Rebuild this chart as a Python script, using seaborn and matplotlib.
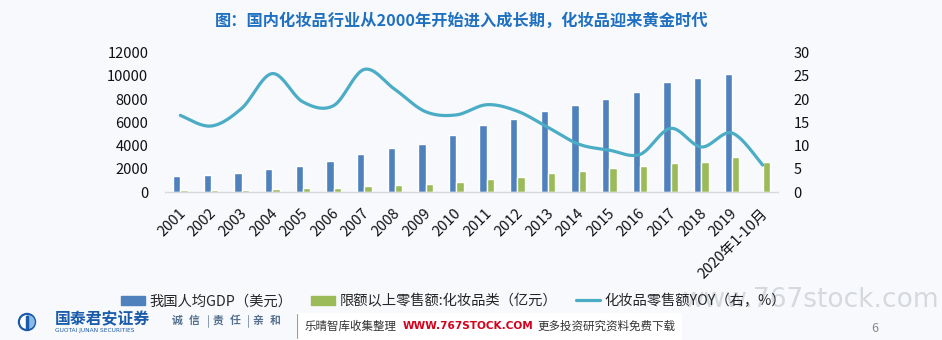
import numpy as np
import pandas as pd
import matplotlib
matplotlib.use("Agg")
import matplotlib.pyplot as plt
from matplotlib import patches
from matplotlib.transforms import ScaledTranslation
from matplotlib.lines import Line2D
import seaborn as sns

# ---- data -------------------------------------------------------------
years = ['2001', '2002', '2003', '2004', '2005', '2006', '2007', '2008',
         '2009', '2010', '2011', '2012', '2013', '2014', '2015', '2016',
         '2017', '2018', '2019', '2020年1-10月']
gdp_per_capita = [1350, 1500, 1660, 1950, 2270, 2650, 3250, 3830, 4140, 4900,
                  5750, 6330, 6960, 7480, 7970, 8580, 9470, 9810, 10130, np.nan]
cosmetics_sales = [145, 150, 175, 230, 345, 375, 490, 575, 720, 865,
                   1080, 1325, 1610, 1815, 2045, 2220, 2505, 2620, 2995, 2580]
cosmetics_yoy = [16.5, 14.2, 18.0, 25.5, 19.4, 18.6, 26.4, 22.1, 17.3, 16.6,
                 18.8, 17.4, 13.9, 10.3, 9.0, 8.1, 13.7, 9.7, 12.7, 5.8]

series_gdp = '我国人均GDP（美元）'
series_sales = '限额以上零售额:化妆品类（亿元）'
series_yoy = '化妆品零售额YOY（右，%）'

left_ticks = [0, 2000, 4000, 6000, 8000, 10000, 12000]
right_ticks = [0, 5, 10, 15, 20, 25, 30]

BLUE = '#4F81BD'
GREEN = '#9BBB59'
TEAL = '#4BACC6'
BG = '#F7F9FC'

# ---- style ------------------------------------------------------------
sns.set_theme(style='white')
plt.rcParams['font.family'] = ['Noto Sans CJK SC', 'DejaVu Sans']
plt.rcParams['axes.unicode_minus'] = False

W, H = 942, 340
fig = plt.figure(figsize=(W / 100, H / 100), dpi=100, facecolor=BG)
ax = fig.add_axes([165 / W, 1 - 192 / H, (778 - 165) / W, (192 - 52.7) / H])
ax.patch.set_visible(False)

# ---- bars -------------------------------------------------------------
df = pd.DataFrame({
    'year': years * 2,
    'series': [series_gdp] * len(years) + [series_sales] * len(years),
    'value': list(gdp_per_capita) + list(cosmetics_sales),
})
sns.barplot(data=df, x='year', y='value', hue='series',
            hue_order=[series_gdp, series_sales], order=years,
            palette=[BLUE, GREEN], width=0.48, gap=0, saturation=1,
            errorbar=None, legend=False, ax=ax)

ax.set_ylim(0, 12000)
ax.set_yticks(left_ticks)
ax.set_yticklabels([str(t) for t in left_ticks])
ax.set_xlim(-0.5, len(years) - 0.5)
ax.set_xlabel('')
ax.set_ylabel('')
for s in ['top', 'left', 'right']:
    ax.spines[s].set_visible(False)
ax.spines['bottom'].set_color('#D9D9D9')
ax.spines['bottom'].set_linewidth(1.0)
ax.tick_params(axis='y', length=0, pad=12, labelsize=10.5, labelcolor='#111111')
ax.tick_params(axis='x', length=0, pad=14, labelsize=10.5, labelcolor='#111111')
ax.set_xticks(range(len(years)))
ax.set_xticklabels(years, rotation=45, ha='right', va='center',
                   rotation_mode='anchor')
shift = ScaledTranslation(3 / 100, 0, fig.dpi_scale_trans)
for lab in ax.get_xticklabels():
    lab.set_transform(lab.get_transform() + shift)

# ---- smoothed growth line on the right axis ------------------------------
def catmull_rom(y, steps=24):
    y = np.asarray(y, dtype=float)
    x = np.arange(len(y), dtype=float)
    px = np.concatenate([[x[0]], x, [x[-1]]])
    py = np.concatenate([[y[0]], y, [y[-1]]])
    xs, ys = [], []
    t = np.linspace(0, 1, steps, endpoint=False)
    for i in range(1, len(px) - 2):
        for p, out in ((px, xs), (py, ys)):
            p0, p1, p2, p3 = p[i - 1], p[i], p[i + 1], p[i + 2]
            out.extend(0.5 * ((2 * p1) + (-p0 + p2) * t
                              + (2 * p0 - 5 * p1 + 4 * p2 - p3) * t ** 2
                              + (-p0 + 3 * p1 - 3 * p2 + p3) * t ** 3))
    xs.append(x[-1])
    ys.append(y[-1])
    return np.array(xs), np.array(ys)

ax2 = ax.twinx()
ax2.patch.set_visible(False)
sx, sy = catmull_rom(cosmetics_yoy)
sns.lineplot(x=sx, y=sy, sort=False, estimator=None, color=TEAL,
             linewidth=2.3, ax=ax2)
ax2.set_ylim(0, 30)
ax2.set_yticks(right_ticks)
ax2.set_yticklabels([str(t) for t in right_ticks])
for s in ax2.spines.values():
    s.set_visible(False)
ax2.tick_params(axis='y', length=0, pad=11, labelsize=10.5, labelcolor='#111111')
ax2.set_ylabel('')

# ---- title ------------------------------------------------------------
fig.text(462 / W, 1 - 20 / H, '图：国内化妆品行业从2000年开始进入成长期，化妆品迎来黄金时代',
         ha='center', va='center', fontsize=11.7, fontweight='bold',
         color='#1F70C1')

# ---- page decorations (pixel coordinates) -------------------------------
deco = fig.add_axes([0, 0, 1, 1], zorder=-1)
deco.set_xlim(0, W)
deco.set_ylim(H, 0)
deco.axis('off')
deco.text(940, 300, 'www.767stock.com', ha='right', va='center',
          fontsize=19, color='#D5D9DE', family='DejaVu Sans')

over = fig.add_axes([0, 0, 1, 1], zorder=5)
over.set_xlim(0, W)
over.set_ylim(H, 0)
over.axis('off')
over.patch.set_visible(False)

# logo
over.add_patch(patches.Circle((27, 322), 8.5, color='#1A5BAA'))
over.add_patch(patches.Wedge((27, 322), 6.3, 90, 270, color='white'))
over.add_patch(patches.Wedge((27.8, 322), 6.3, -90, 90, color='#8CBCE6'))
over.add_patch(patches.Rectangle((26.2, 315.5), 1.6, 13, color='#1A5BAA'))
over.text(55, 319.5, '国泰君安证券', ha='left', va='center', fontsize=11.4,
          fontweight='bold', color='#1A5BAA')
over.text(55, 330.5, 'GUOTAI JUNAN SECURITIES', ha='left', va='center',
          fontsize=4.2, color='#1A5BAA', family='DejaVu Sans')

# motto, one character at a time with thin separators
motto_chars = ['诚', '信', '责', '任', '亲', '和']
motto_x = [177, 194, 218, 235, 258, 275]
for ch, cx in zip(motto_chars, motto_x):
    over.text(cx, 321, ch, ha='center', va='center', fontsize=7.8,
              fontweight='bold', color='#55708F')
for sx_ in (208, 248):
    over.plot([sx_, sx_], [315, 327], color='#8A9BB2', lw=0.7)

over.add_patch(patches.Rectangle((296, 313), 386, 27, color='white', lw=0))
over.plot([297, 297], [314, 338], color='#9A9A9A', lw=0.8)
over.text(305, 326, '乐晴智库收集整理', ha='left', va='center', fontsize=8.3,
          color='#333333')
over.text(403, 326, 'WWW.767STOCK.COM', ha='left', va='center', fontsize=7.6,
          fontweight='bold', color='#D5001C', family='DejaVu Sans')
over.text(537, 326, '更多投资研究资料免费下载', ha='left', va='center',
          fontsize=8.3, color='#333333')
over.text(875, 328, '6', ha='center', va='center', fontsize=9, color='#8A8A8A')

# ---- legend -----------------------------------------------------------
handles = [patches.Patch(color=BLUE), patches.Patch(color=GREEN),
           Line2D([0], [0], color=TEAL, lw=2.3)]
leg = fig.legend(handles, [series_gdp, series_sales, series_yoy],
                 loc='center left', bbox_to_anchor=(121 / W, 1 - 301 / H),
                 ncol=3, frameon=False, fontsize=10.3, handlelength=1.7,
                 handleheight=0.6, handletextpad=0.3, columnspacing=1.3,
                 borderaxespad=0, borderpad=0)

fig.savefig('out.png', dpi=100, facecolor=BG)
